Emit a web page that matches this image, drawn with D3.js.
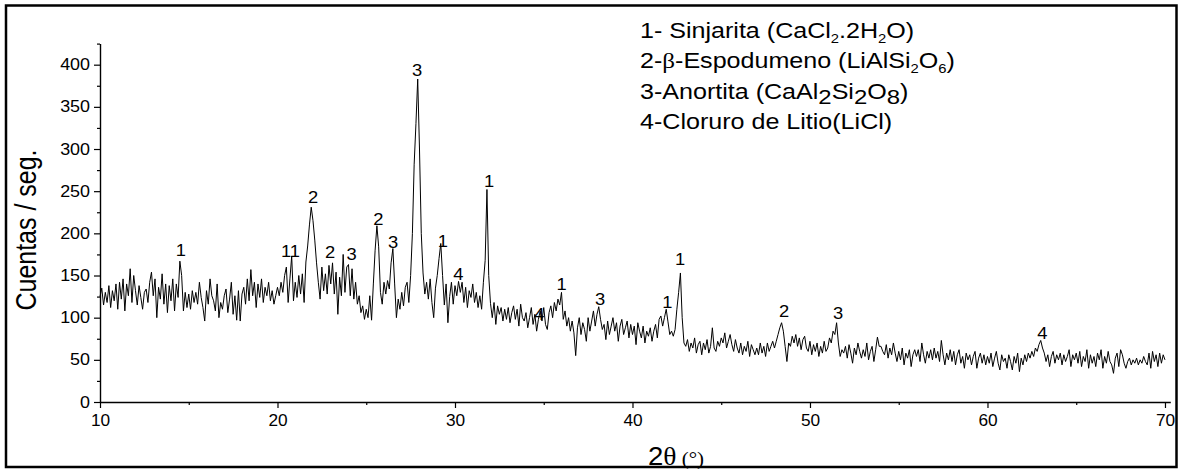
<!DOCTYPE html>
<html>
<head>
<meta charset="utf-8">
<script src="https://cdn.jsdelivr.net/npm/d3@7"></script>
<style>
  body { margin: 0; background: #fff; }
  svg text { font-family: Arial, "Liberation Sans", sans-serif; fill: #000; }
</style>
</head>
<body>
<svg id="chart" width="1178" height="470"></svg>
<script>
// DATA

// 2theta grid: 10.0 .. 70.0 in 0.1 degree steps
var angleStart = 10, angleStep = 0.1;

var counts10 = [
  125,135,115,130,118,138,112,132,120,140,
  110,142,122,146,108,140,126,158,118,150,
  132,115,138,124,110,130,134,118,142,154,
  126,146,100,136,122,152,116,140,106,138,
  120,146,108,140,124,167,150,108,130,112,
  128,110,132,118,130,116,142,124,112,96,
  132,116,146,126,120,108,140,100,118,110,
  126,134,106,122,142,104,126,97,132,96,
  128,136,116,146,120,157,126,142,112,140,
  124,146,118,136,126,142,120,132,116,126
];
var counts20 = [
  136,126,142,130,150,160,118,146,173,120,
  142,124,150,128,152,118,166,185,210,231,
  215,192,165,142,122,160,132,152,128,162,
  140,165,128,154,104,148,126,175,130,160,
  163,126,158,122,142,116,126,106,114,98,
  110,100,126,97,140,180,209,184,130,116,
  142,128,144,134,165,182,140,100,122,110,
  130,114,136,142,118,150,200,282,330,383,
  300,200,153,128,142,122,146,118,100,135,
  150,170,188,150,115,140,94,125,142,116
];
var counts30 = [
  138,126,143,130,142,118,136,112,132,124,
  140,118,130,112,126,110,142,168,252,150,
  117,100,118,92,114,104,112,96,110,98,
  112,94,106,114,98,110,90,116,100,96,
  106,88,100,112,92,104,84,98,108,96,
  112,92,86,106,114,100,118,108,122,115,
  130,98,108,90,100,84,96,82,55,88,
  100,80,94,86,72,100,84,96,108,90,
  104,113,98,86,92,74,96,80,90,100,
  84,94,72,90,98,80,88,96,76,92
];
var counts40 = [
  80,90,68,94,84,76,90,70,84,78,
  88,72,84,92,76,98,102,90,100,110,
  95,80,84,78,86,110,130,153,100,70,
  66,74,60,70,64,76,58,68,72,56,
  70,62,74,58,66,88,64,60,72,66,
  76,70,82,64,72,80,68,60,74,64,
  58,70,56,66,60,72,54,68,62,56,
  64,56,70,58,66,54,70,60,66,72,
  64,72,80,88,94,84,66,48,70,66,
  78,70,80,66,76,62,74,78,64,60
];
var counts50 = [
  72,56,68,60,70,54,66,58,72,60,
  64,76,70,84,80,94,70,54,62,58,
  66,52,68,58,46,64,56,70,60,52,
  62,54,70,50,60,66,48,62,77,66,
  66,60,56,68,52,64,56,70,58,48,
  60,50,64,44,58,52,62,42,56,62,
  54,62,48,70,56,46,60,52,62,50,
  64,52,60,48,73,56,44,58,50,62,
  48,60,44,56,62,46,54,40,58,50,
  56,44,54,60,40,52,58,46,56,44
];
var counts60 = [
  54,46,58,42,52,60,46,38,56,48,
  52,40,56,48,38,54,46,58,36,52,
  44,56,48,58,52,60,54,64,60,68,
  73,64,58,48,56,42,54,60,46,56,
  50,58,44,56,48,54,62,42,56,50,
  58,46,60,42,54,48,62,40,56,46,
  54,42,58,50,62,40,54,46,60,48,
  44,34,52,58,42,62,56,46,40,48,
  52,44,50,46,52,44,50,46,54,48,
  44,58,40,60,48,56,42,58,46,56,
  50
];

// peak labels: phase number, 2theta, height of label baseline (counts)
var peakLabels = ["1","11","2","2","3","2","3","3","1","4","1","4","1","3","1","1","2","3","4"];
var peakAngles = [14.56,20.73,22.0,22.96,24.18,25.68,26.52,27.86,29.31,30.19,31.92,34.75,36.01,38.17,41.96,42.68,48.54,51.59,63.09];
var peakHeights = [173,172,236,171,168,210,183,386,184,145,255,97,133,115,111,162,101,99,75];

var xTicks = [10,20,30,40,50,60,70];
var xMinorTicks = [15,25,35,45,55,65];
var yTicks = [0,50,100,150,200,250,300,350,400];
var yMinorTicks = [25,75,125,175,225,275,325,375,425];

// RENDERING

var counts = counts10.concat(counts20, counts30, counts40, counts50, counts60);
var pattern = counts.map(function(c, i){
  return { angle: angleStart + i*angleStep, count: c };
});

var svg = d3.select("#chart");

var x = d3.scaleLinear().domain([10, 70.3]).range([100, 1170.3]);
var y = d3.scaleLinear().domain([0, 425]).range([402, 43.6]);

// outer frame
svg.append("rect")
  .attr("x", 6).attr("y", 5.5)
  .attr("width", 1170.5).attr("height", 461.5)
  .attr("fill", "none")
  .attr("stroke", "#000")
  .attr("stroke-width", 2.5);

// axes
svg.append("g")
  .attr("class", "x-axis")
  .attr("transform", "translate(0,402)")
  .call(d3.axisBottom(x).tickValues(xTicks).tickSize(6).tickSizeOuter(0).tickPadding(7).tickFormat(d3.format("d")));
svg.append("g")
  .attr("transform", "translate(0,402)")
  .call(d3.axisBottom(x).tickValues(xMinorTicks).tickSize(3).tickSizeOuter(0).tickFormat(""))
  .select(".domain").remove();

svg.append("g")
  .attr("class", "y-axis")
  .attr("transform", "translate(100,0)")
  .call(d3.axisLeft(y).tickValues(yTicks).tickSize(6).tickSizeOuter(0).tickPadding(4).tickFormat(d3.format("d")));
svg.append("g")
  .attr("transform", "translate(100,0)")
  .call(d3.axisLeft(y).tickValues(yMinorTicks).tickSize(3).tickSizeOuter(0).tickFormat(""))
  .select(".domain").remove();

svg.selectAll(".domain").attr("stroke", "#000").attr("stroke-width", 1.4);
svg.selectAll(".tick line").attr("stroke", "#000").attr("stroke-width", 1.2);
svg.selectAll(".tick text")
  .style("font-family", "Arial, 'Liberation Sans', sans-serif")
  .style("font-size", "16px")
  .attr("fill", "#000");
// the picture is a little wider than tall: stretch tick labels sideways
svg.selectAll(".y-axis .tick text")
  .attr("transform", "translate(-10,0) scale(1.12,1) translate(10,0)");
svg.selectAll(".x-axis .tick text")
  .attr("transform", "scale(1.08,1)");

// diffraction pattern
var line = d3.line()
  .x(function(d){ return x(d.angle); })
  .y(function(d){ return y(d.count); });

svg.append("path")
  .datum(pattern)
  .attr("d", line)
  .attr("fill", "none")
  .attr("stroke", "#000")
  .attr("stroke-width", 1)
  .attr("stroke-linejoin", "round");

// peak labels
svg.append("g").selectAll("text")
  .data(peakLabels)
  .enter().append("text")
    .attr("transform", function(d, i){ return "translate(" + x(peakAngles[i]) + "," + y(peakHeights[i]) + ") scale(1.08,1)"; })
    .attr("text-anchor", "middle")
    .style("font-size", "17px")
    .text(function(d){ return d; });

// axis titles
svg.append("text")
  .attr("transform", "translate(36,230) rotate(-90) scale(1,1.18)")
  .attr("text-anchor", "middle")
  .style("font-size", "25px")
  .text("Cuentas / seg.");

var xTitle = svg.append("text")
  .attr("transform", "translate(648,465) scale(1.1,1)");
xTitle.append("tspan").style("font-size", "25px").text("2");
xTitle.append("tspan").style("font-size", "25px").style("font-family", "'Liberation Serif', 'DejaVu Serif', serif").text("θ");
xTitle.append("tspan").style("font-size", "19px").style("font-family", "'Liberation Serif', 'DejaVu Serif', serif").text(" (°)");

// legend
var legend = svg.append("g").attr("class", "legend");

function legend_line(yPos, parts){
  var t = legend.append("text")
    .attr("transform", "translate(640," + yPos + ") scale(1.14,1)")
    .style("font-size", "22px");
  var shift = 0;
  parts.forEach(function(p){
    var s = t.append("tspan").text(p.t);
    var target = p.sub || 0;
    if(target !== shift){ s.attr("dy", target - shift); shift = target; }
    if(p.size) s.style("font-size", p.size + "px");
    if(p.serif) s.style("font-family", "'Liberation Serif', 'DejaVu Serif', serif");
  });
  return t;
};

legend_line(37.5, [
  {t: "1- Sinjarita (CaCl"}, {t: "2", sub: 5, size: 13}, {t: ".2H"},
  {t: "2", sub: 5, size: 13}, {t: "O)"}
]);
legend_line(68, [
  {t: "2-"}, {t: "β", serif: true}, {t: "-Espodumeno (LiAlSi"},
  {t: "2", sub: 5, size: 13}, {t: "O"}, {t: "6", sub: 5, size: 13}, {t: ")"}
]);
legend_line(98.5, [
  {t: "3-Anortita (CaAl"}, {t: "2", sub: 5, size: 21}, {t: "Si"},
  {t: "2", sub: 5, size: 21}, {t: "O"}, {t: "8", sub: 5, size: 21}, {t: ")"}
]);
legend_line(129, [
  {t: "4-Cloruro de Litio(LiCl)"}
]);
</script>
</body>
</html>
